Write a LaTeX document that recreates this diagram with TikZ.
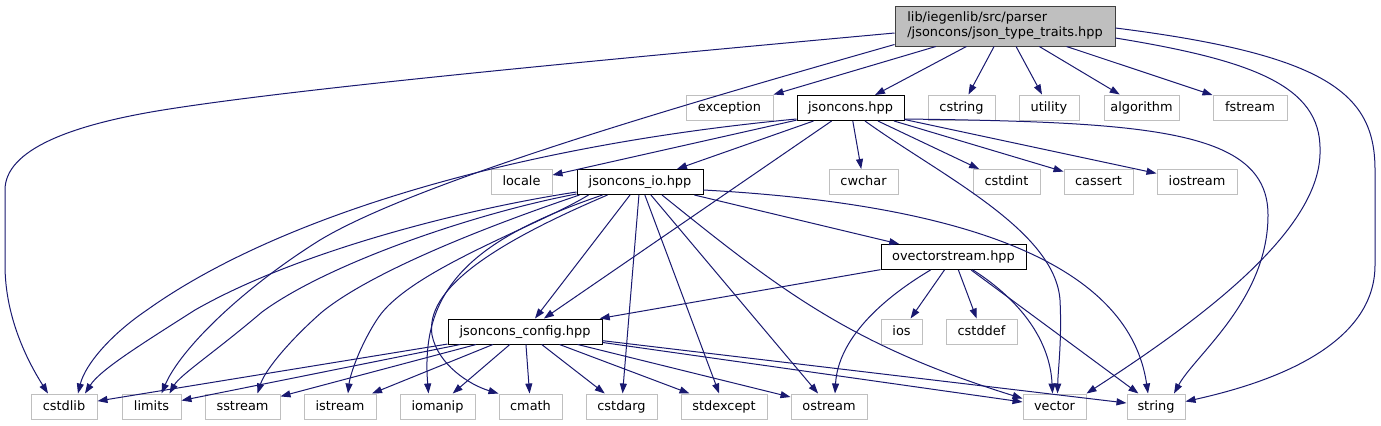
\documentclass[tikz,border=0pt]{standalone}
\usepackage{fontspec}
\setmainfont{DejaVu Sans}
\usetikzlibrary{arrows.meta,calc}
\definecolor{edgeblue}{HTML}{191970}
\definecolor{leafgray}{HTML}{BFBFBF}
\definecolor{rootfill}{HTML}{BFBFBF}
\definecolor{rootline}{HTML}{404040}
\begin{document}
\begin{tikzpicture}[x=1bp,y=-1bp,
  box/.style={font=\fontsize{12.9bp}{15bp}\selectfont, inner sep=0pt, minimum height=25bp,
    text height=9.8bp, text depth=2.2bp, line width=1bp, fill=white},
  leaf/.style={box, draw=leafgray},
  linked/.style={box, draw=black},
  rootbox/.style={font=\fontsize{12.9bp}{15bp}\selectfont, inner sep=0pt, minimum height=40bp,
    minimum width=220bp, align=left, draw=rootline, fill=rootfill, line width=1bp},
  dep/.style={draw=edgeblue, line width=1bp, -{Triangle[length=10bp,width=7bp]}}]
\fill[white] (0,0) rectangle (1381,425);
\useasboundingbox (0,0) rectangle (1381,425);

% nodes
\node[rootbox] (root) at (1005,26) {lib/iegenlib/src/parser\\/jsoncons/json\_type\_traits.hpp};
\node[leaf, minimum width=87bp] (exception) at (729.5,107.5) {exception};
\node[linked, minimum width=107bp] (jsoncons) at (850.5,108) {jsoncons.hpp};
\node[leaf, minimum width=67bp] (cstring) at (961.5,107.5) {cstring};
\node[leaf, minimum width=60bp] (utility) at (1049,107.5) {utility};
\node[leaf, minimum width=75bp] (algorithm) at (1141.5,107.5) {algorithm};
\node[leaf, minimum width=74bp] (fstream) at (1250,107.5) {fstream};

\node[leaf, minimum width=61bp] (locale) at (521.5,182) {locale};
\node[linked, minimum width=126bp] (io) at (640,182) {jsoncons\_io.hpp};
\node[leaf, minimum width=69bp] (cwchar) at (863.5,182) {cwchar};
\node[leaf, minimum width=67bp] (cstdint) at (1006.5,182) {cstdint};
\node[leaf, minimum width=69bp] (cassert) at (1098.5,182) {cassert};
\node[leaf, minimum width=80bp] (iostream) at (1197,182) {iostream};

\node[linked, minimum width=145bp] (ovec) at (953.5,257) {ovectorstream.hpp};

\node[linked, minimum width=154bp] (config) at (525,331.5) {jsoncons\_config.hpp};
\node[leaf, minimum width=41bp] (ios) at (901.5,331.5) {ios};
\node[leaf, minimum width=71bp] (cstddef) at (981.5,331.5) {cstddef};

\node[leaf, minimum width=66bp] (cstdlib) at (64,406.5) {cstdlib};
\node[leaf, minimum width=59bp] (limits) at (151.5,406.5) {limits};
\node[leaf, minimum width=75bp] (sstream) at (242.5,406.5) {sstream};
\node[leaf, minimum width=72bp] (istream) at (340,406.5) {istream};
\node[leaf, minimum width=75bp] (iomanip) at (437.5,406.5) {iomanip};
\node[leaf, minimum width=63bp] (cmath) at (530.5,406.5) {cmath};
\node[leaf, minimum width=71bp] (cstdarg) at (621.5,406.5) {cstdarg};
\node[leaf, minimum width=86bp] (stdexcept) at (724,406.5) {stdexcept};
\node[leaf, minimum width=76bp] (ostream) at (829,406.5) {ostream};
\node[leaf, minimum width=63bp] (vector) at (1054.5,406.5) {vector};
\node[leaf, minimum width=58bp] (string) at (1156,406.5) {string};

% root edges
\draw[dep] ($(root.west)+(0,7)$) .. controls (600,60) and (300,88) .. (163,110)
  .. controls (70,125) and (5,150) .. (5,190) -- (5,265)
  .. controls (5,320) and (30,365) .. ($(cstdlib.north)+(-16,0)$);
\draw[dep] ($(root.south west)+(0,-2)$) .. controls (700,100) and (420,180) .. (320,240)
  .. controls (240,290) and (180,350) .. ($(limits.north)+(10,0)$);
\draw[dep] (root) -- (exception);
\draw[dep] (root) -- (jsoncons);
\draw[dep] (root) -- (cstring);
\draw[dep] (root) -- (utility);
\draw[dep] (root) -- (algorithm);
\draw[dep] (root) -- (fstream);
\draw[dep] ($(root.east)+(0,12)$) .. controls (1250,60) and (1321,85) .. (1320,150)
  .. controls (1322,230) and (1200,320) .. (vector.north east);
\draw[dep] ($(root.east)+(0,2)$) .. controls (1330,55) and (1375,95) .. (1375,170) -- (1375,265)
  .. controls (1375,350) and (1260,385) .. ($(string.east)+(0,-5)$);

% jsoncons.hpp edges
\draw[dep] ($(jsoncons.south west)+(0,-2)$) .. controls (520,145) and (280,215) .. (147,310)
  .. controls (110,335) and (85,365) .. ($(cstdlib.north)+(14,0)$);
\draw[dep] (jsoncons) -- (locale);
\draw[dep] (jsoncons) -- (io);
\draw[dep] (jsoncons) -- (config);
\draw[dep] (jsoncons) -- (cwchar);
\draw[dep] ($(jsoncons.south)+(14.5,0)$) .. controls (940,175) and (1055,230) .. (1060,300)
  .. controls (1062,340) and (1058,370) .. ($(vector.north)+(3,0)$);
\draw[dep] (jsoncons) -- (cstdint);
\draw[dep] (jsoncons) -- (cassert);
\draw[dep] (jsoncons) -- (iostream);
\draw[dep] ($(jsoncons.south east)+(0,-2)$) .. controls (1150,122) and (1268,130) .. (1268,215)
  .. controls (1268,300) and (1195,355) .. ($(string.north)+(18,0)$);

% jsoncons_io.hpp edges
\draw[dep] ($(io.south west)+(0,-3)$) .. controls (470,208) and (300,250) .. (195,310)
  .. controls (140,345) and (100,370) .. ($(cstdlib.north)+(21,0)$);
\draw[dep] ($(io.south west)+(0,-1)$) .. controls (480,212) and (330,262) .. (262,312)
  .. controls (215,352) and (180,375) .. ($(limits.north)+(18,0)$);
\draw[dep] ($(io.south west)+(3,0)$) .. controls (520,215) and (380,265) .. (322,312)
  .. controls (290,340) and (265,370) .. ($(sstream.north)+(15,0)$);
\draw[dep] ($(io.south west)+(12,0)$) .. controls (540,225) and (410,270) .. (378,318)
  .. controls (360,345) and (350,375) .. ($(istream.north)+(8,0)$);
\draw[dep] ($(io.south west)+(26,0)$) .. controls (470,240) and (420,290) .. ($(iomanip.north)+(-9,0)$);
\draw[dep] ($(io.south west)+(31,0)$) .. controls (490,245) and (425,290) .. (432,335)
  .. controls (438,365) and (470,385) .. (cmath.north west);
\draw[dep] (io) -- (config);
\draw[dep] (io) -- (cstdarg);
\draw[dep] (io) -- (stdexcept);
\draw[dep] (io) -- (ostream);
\draw[dep] ($(io.south)+(22,0)$) .. controls (780,290) and (850,345) .. ($(vector.west)+(0,-8)$);
\draw[dep] ($(io.south east)+(0,-5)$) .. controls (980,205) and (1130,270) .. ($(string.north)+(-8,0)$);
\draw[dep] (io) -- (ovec);

% ovectorstream.hpp edges
\draw[dep] (ovec) -- (config);
\draw[dep] ($(ovec.south)+(-23,0)$) .. controls (880,300) and (838,340) .. ($(ostream.north)+(6,0)$);
\draw[dep] (ovec) -- (ios);
\draw[dep] (ovec) -- (cstddef);
\draw[dep] ($(ovec.south)+(19.5,0)$) .. controls (1020,300) and (1050,340) .. ($(vector.north)+(-2,0)$);
\draw[dep] (ovec) -- (string);

% jsoncons_config.hpp edges
\draw[dep] (config) -- (cstdlib);
\draw[dep] (config) -- (limits);
\draw[dep] (config) -- (sstream);
\draw[dep] (config) -- (istream);
\draw[dep] (config) -- (iomanip);
\draw[dep] (config) -- (cmath);
\draw[dep] (config) -- (cstdarg);
\draw[dep] (config) -- (stdexcept);
\draw[dep] (config) -- (ostream);
\draw[dep] (config) -- (vector);
\draw[dep] (config) -- (string);
\end{tikzpicture}
\end{document}
